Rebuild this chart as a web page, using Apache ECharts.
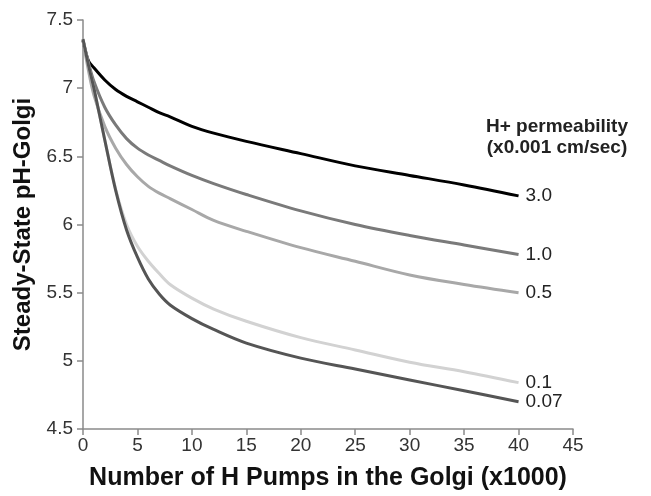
<!DOCTYPE html>
<html>
<head>
<meta charset="utf-8">
<script src="https://cdn.jsdelivr.net/npm/echarts@6/dist/echarts.min.js"></script>
<style>
html,body{margin:0;padding:0;background:#fff;}
#chart{width:651px;height:496px;}
</style>
</head>
<body>
<div id="chart"></div>
<script>
var xValues  = [0, 0.5, 1, 2, 3, 4, 5, 6, 7, 8, 10, 12, 15, 20, 25, 30, 35, 40];
var perm3_0  = [7.35, 7.20, 7.15, 7.06, 6.99, 6.94, 6.90, 6.86, 6.82, 6.79, 6.72, 6.67, 6.61, 6.52, 6.43, 6.36, 6.29, 6.21];
var perm1_0  = [7.35, 7.19, 7.05, 6.86, 6.73, 6.63, 6.56, 6.51, 6.47, 6.43, 6.36, 6.30, 6.22, 6.10, 6.00, 5.92, 5.85, 5.78];
var perm0_5  = [7.35, 7.13, 6.95, 6.72, 6.56, 6.44, 6.35, 6.28, 6.23, 6.19, 6.11, 6.03, 5.95, 5.83, 5.73, 5.63, 5.56, 5.50];
var perm0_1  = [7.36, 7.17, 7.00, 6.62, 6.26, 6.00, 5.84, 5.73, 5.64, 5.56, 5.46, 5.38, 5.29, 5.17, 5.08, 4.99, 4.92, 4.84];
var perm0_07 = [7.36, 7.17, 7.00, 6.62, 6.25, 5.96, 5.76, 5.60, 5.49, 5.41, 5.31, 5.23, 5.13, 5.02, 4.94, 4.86, 4.78, 4.70];
var seriesNames  = ['3.0', '1.0', '0.5', '0.1', '0.07'];
var seriesColors = ['#000000', '#7a7a7a', '#a8a8a8', '#d2d2d2', '#555555'];
var legendTitle  = ['H+ permeability', '(x0.001 cm/sec)'];

var FONT = '"Liberation Sans", Arial, sans-serif';
function pairs(ys){ return xValues.map(function(x,i){ return [x, ys[i]]; }); }
var allY = [perm3_0, perm1_0, perm0_5, perm0_1, perm0_07];
var series = allY.map(function(ys, k){
  return {
    name: seriesNames[k], type: 'line', smooth: 0.35, symbol: 'none',
    data: pairs(ys),
    lineStyle: { color: seriesColors[k], width: 3 },
    endLabel: { show: true, formatter: seriesNames[k], color: '#222', fontSize: 19,
      fontFamily: FONT, distance: 7 },
    animation: false, z: 3 + k
  };
});

var chart = echarts.init(document.getElementById('chart'));
chart.setOption({
  backgroundColor: '#fff',
  animation: false,
  grid: { left: 83, right: 78, top: 20, bottom: 64 },
  xAxis: {
    type: 'value', min: 0, max: 45, interval: 5,
    name: 'Number of H Pumps in the Golgi (x1000)', nameLocation: 'middle', nameGap: 37,
    nameTextStyle: { fontSize: 25, fontWeight: 'bold', color: '#111', fontFamily: FONT },
    axisLine: { lineStyle: { color: '#8a8a8a', width: 1.5 } },
    axisTick: { show: true, inside: false, length: 6, lineStyle: { color: '#8a8a8a', width: 1.5 } },
    axisLabel: { fontSize: 19, color: '#333', margin: 7, fontFamily: FONT },
    splitLine: { show: false }
  },
  yAxis: {
    type: 'value', min: 4.5, max: 7.5, interval: 0.5,
    name: 'Steady-State pH-Golgi', nameLocation: 'middle', nameGap: 47,
    nameTextStyle: { fontSize: 24, fontWeight: 'bold', color: '#111', fontFamily: FONT },
    axisLine: { show: true, lineStyle: { color: '#8a8a8a', width: 1.5 } },
    axisTick: { show: true, inside: false, length: 6, lineStyle: { color: '#8a8a8a', width: 1.5 } },
    axisLabel: { fontSize: 19, color: '#333', margin: 10, fontFamily: FONT },
    splitLine: { show: false }
  },
  graphic: [{
    type: 'text', x: 557, y: 116,
    style: { text: legendTitle.join('\n'), fill: '#222', font: 'bold 19px "Liberation Sans", Arial, sans-serif',
      textAlign: 'center', lineHeight: 21 }
  }],
  series: series
});
</script>
</body>
</html>
